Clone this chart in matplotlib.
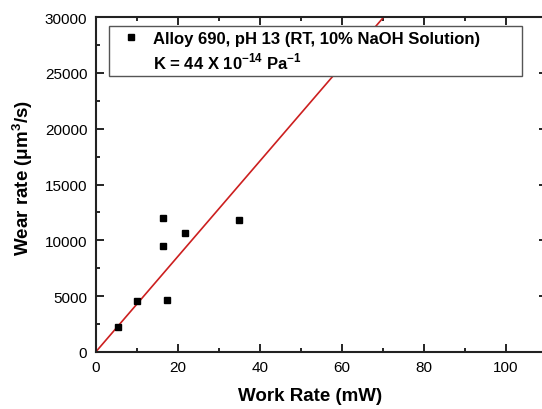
import numpy as np
import matplotlib
matplotlib.use('Agg')
import matplotlib.pyplot as plt
from matplotlib.lines import Line2D

plt.rcParams['font.family'] = ['Liberation Sans', 'DejaVu Sans']
plt.rcParams['mathtext.fontset'] = 'custom'
plt.rcParams['mathtext.rm'] = 'Liberation Sans'
plt.rcParams['mathtext.bf'] = 'Liberation Sans:bold'

# measured points (work rate mW, wear rate um^3/s)
work_rate = [5.5, 10.0, 17.3, 16.5, 16.5, 21.8, 34.9]
wear_rate = [2270, 4600, 4670, 9460, 12000, 10690, 11850]

# fitted line through origin, slope
slope = 427
fit_x = [0, 110]

legend_label = 'Alloy 690, pH 13 (RT, 10% NaOH Solution)'
k_label = r'K = 44 X 10$^{\mathregular{-14}}$ Pa$^{\mathregular{-1}}$'

fig = plt.figure(figsize=(5.42, 4.10), dpi=100)
ax = fig.add_axes([95.7/542, 1 - 353/410, 451/542, 335/410])

fit_y = [slope * v for v in fit_x]
ax.plot(fit_x, fit_y, color='#cc1f1f', lw=1.2, zorder=2)
pts, = ax.plot(work_rate, wear_rate, 's', color='black', ms=4.5, zorder=3)

ax.set_xlim(0, 110)
ax.set_ylim(0, 30000)
ax.set_xticks([0, 20, 40, 60, 80, 100])
ax.set_xticks(np.arange(10, 110, 20), minor=True)
ax.set_yticks(np.arange(0, 30001, 5000))
ax.set_yticks(np.arange(2500, 30000, 5000), minor=True)
ax.tick_params(which='both', direction='in', top=True, right=True,
               labelsize=11, width=1.2, pad=6)
ax.tick_params(which='major', length=6)
ax.tick_params(which='minor', length=3)
for s in ax.spines.values():
    s.set_linewidth(1.5)
    s.set_color('#222222')

ax.set_xlabel('Work Rate (mW)', fontsize=13.5, fontweight='bold')
ax.xaxis.set_label_coords(0.475, -0.105)
ax.set_ylabel(r'Wear rate ($\mathbf{\mu}$m$^{\mathbf{3}}$/s)', fontsize=13.5,
              fontweight='bold')
ax.yaxis.set_label_coords(-0.135, 0.522)

blank = Line2D([], [], linestyle='none', marker=None)
leg = ax.legend([pts, blank], [legend_label, k_label],
                loc='upper left', bbox_to_anchor=(0.030, 0.974, 0.915, 0.0),
                mode='expand', fancybox=False, edgecolor='#555555',
                framealpha=1, borderpad=0.3, labelspacing=0.3,
                handlelength=2.0, handletextpad=0.35, borderaxespad=0,
                prop={'size': 12, 'weight': 'bold'})
leg.get_frame().set_linewidth(1.0)

fig.savefig('out.png', dpi=100)
